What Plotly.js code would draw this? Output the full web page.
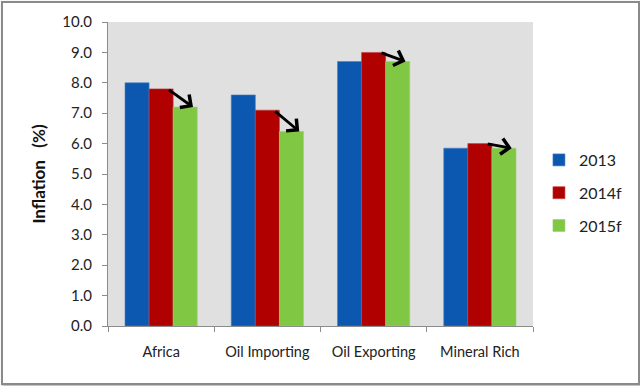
<!DOCTYPE html>
<html>
<head>
<meta charset="utf-8">
<script src="https://cdn.plot.ly/plotly-3.0.1.min.js"></script>
<style>
  html, body { margin: 0; padding: 0; background: #fff; }
  #wrap { position: relative; width: 640px; height: 386px; }
  #chart { width: 640px; height: 386px; }
  #frame { position: absolute; left: 1px; top: 1px; width: 635px; height: 380px;
           border: 2px solid #8a8a8a; box-shadow: 1px 1px 2px rgba(0,0,0,0.35); pointer-events: none; }
</style>
</head>
<body>
<div id="wrap">
  <div id="chart"></div>
  <div id="frame"></div>
</div>
<script>
const categories = ["Africa", "Oil Importing", "Oil Exporting", "Mineral Rich"];
const seriesNames = ["2013", "2014f", "2015f"];
const v2013 = [8.0, 7.6, 8.7, 5.85];
const v2014 = [7.8, 7.1, 9.0, 6.0];
const v2015 = [7.2, 6.4, 8.7, 5.85];
const yTicks = [0, 1, 2, 3, 4, 5, 6, 7, 8, 9, 10];
const yTickText = ["0.0","1.0","2.0","3.0","4.0","5.0","6.0","7.0","8.0","9.0","10.0"];

const colors = ["#0C58B0", "#B00000", "#80C844"];
const lines = ["#4A7FBF", "#C04040", "#9CD070"];
const allVals = [v2013, v2014, v2015];

const traces = allVals.map((v, i) => ({
  type: "bar",
  name: seriesNames[i],
  x: categories,
  y: v,
  legendgroup: "g" + i,
  marker: { color: colors[i], line: { color: lines[i], width: 0.6 } },
  hoverinfo: "skip"
}));

const annotations = categories.map((c, i) => ({
  x: i + 0.3, y: v2015[i],
  ax: i + 0.06, ay: v2014[i],
  xref: "x", yref: "y", axref: "x", ayref: "y",
  text: "", showarrow: true,
  arrowhead: 4, arrowsize: 1.1, arrowwidth: 2.8, arrowcolor: "#000"
}));

const fam = "Lato, 'Open Sans', sans-serif";

const layout = {
  width: 640, height: 386,
  margin: { l: 108, r: 103, t: 22, b: 60 },
  paper_bgcolor: "#ffffff",
  plot_bgcolor: "#E0E0E0",
  font: { family: fam, size: 14, color: "#222" },
  barmode: "group",
  bargap: 0.32,
  bargroupgap: 0,
  showlegend: true,
  legend: {
    x: 1.014, xanchor: "left", y: 0.4375, yanchor: "middle",
    font: { family: fam, size: 16, color: "#222" },
    tracegroupgap: 9, itemwidth: 30, bgcolor: "rgba(0,0,0,0)"
  },
  xaxis: {
    type: "category",
    showline: true, linecolor: "#8c8c8c", linewidth: 1,
    ticks: "outside", ticklen: 5, tickcolor: "#8c8c8c", tickson: "boundaries",
    showgrid: false, zeroline: false,
    tickfont: { family: fam, size: 14.5, color: "#222" },
    ticklabelstandoff: 13
  },
  yaxis: {
    range: [0, 10],
    tickvals: yTicks, ticktext: yTickText,
    showline: true, linecolor: "#8c8c8c", linewidth: 1,
    ticks: "outside", ticklen: 5, tickcolor: "#8c8c8c",
    showgrid: false, zeroline: false,
    tickfont: { family: fam, size: 15, color: "#222" },
    ticklabelstandoff: 7,
    title: { text: "Inflation\u00a0\u00a0\u00a0(%)", font: { family: fam, size: 17, color: "#111", weight: "bold" }, standoff: 12 }
  },
  annotations: annotations
};

Plotly.newPlot("chart", traces, layout, { displayModeBar: false, staticPlot: true });
</script>
</body>
</html>
